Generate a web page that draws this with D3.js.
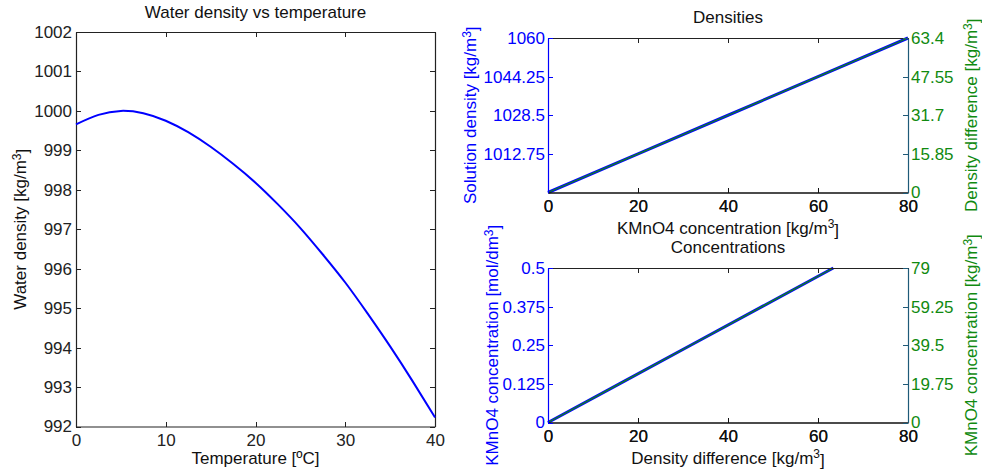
<!DOCTYPE html>
<html>
<head>
<meta charset="utf-8">
<script src="https://cdn.jsdelivr.net/npm/d3@7"></script>
<style>
  body { margin: 0; background: #fff; }
  svg { display: block; font-family: "Liberation Sans", Arial, Helvetica, sans-serif; }
  .tick line { shape-rendering: crispEdges; }
</style>
</head>
<body>
<div id="chart"></div>
<script>
// water density vs temperature (left panel)
const temps = [0, 2.5, 5, 7.5, 10, 12.5, 15, 17.5, 20, 22.5, 25, 27.5, 30, 32.5, 35, 37.5, 40];
const waterDensity = [999.66, 999.90, 1000.00, 999.94, 999.75, 999.46, 999.09, 998.66, 998.18,
  997.63, 997.03, 996.36, 995.65, 994.86, 994.03, 993.15, 992.23];
const tempTicks = [0, 10, 20, 30, 40];
const waterTicks = [992, 993, 994, 995, 996, 997, 998, 999, 1000, 1001, 1002];

// densities panel
const kmno4Conc = [0, 20, 40, 60, 80];
const solutionDensity = [997, 1012.75, 1028.5, 1044.25, 1060];
const densityDiff = [0, 15.85, 31.7, 47.55, 63.4];
const solTicks = [1012.75, 1028.5, 1044.25, 1060];
const diffTicks = [0, 15.85, 31.7, 47.55, 63.4];

// concentrations panel
const diffX = [0, 15.85, 31.7, 47.55, 63.4];
const molConc = [0, 0.125, 0.25, 0.375, 0.5];
const kgConc = [0, 19.75, 39.5, 59.25, 79];
const molTicks = [0, 0.125, 0.25, 0.375, 0.5];
const kgTicks = [0, 19.75, 39.5, 59.25, 79];
const xTicks = [0, 20, 40, 60, 80];

const BLUE = "#0000ff", GREEN = "#108a10", RAXIS = "#1f5a78";
const FS = 17, TK = 5;

const svg = d3.select("#chart").append("svg")
  .attr("width", 982).attr("height", 473);
svg.append("rect").attr("width", 982).attr("height", 473).attr("fill", "#fff");

// text with a superscript "3" piece
function label(g, x, y, pre, post, color, rot) {
  const t = g.append("text")
    .attr("text-anchor", "middle")
    .attr("fill", color)
    .style("font-size", FS + "px")
    .attr("transform", "translate(" + x + "," + y + ")" + (rot ? " rotate(-90)" : ""));
  t.append("tspan").text(pre);
  if (post !== undefined) {
    t.append("tspan").attr("dy", "-0.45em").style("font-size", "12px").text("3");
    t.append("tspan").attr("dy", "0.45em").text(post);
  }
  return t;
}

function styleAxis(g, color) {
  g.selectAll("path.domain").attr("stroke", color).attr("stroke-width", 1.2);
  g.selectAll(".tick line").attr("stroke", color);
  g.selectAll(".tick text").attr("fill", color).style("font-size", FS + "px")
    .style("font-family", "'Liberation Sans', Arial, sans-serif");
}

// ---------------- left panel ----------------
{
  const L = 76, R = 435, T = 32, B = 426.5;
  const x = d3.scaleLinear().domain([0, 40]).range([L, R]);
  const y = d3.scaleLinear().domain([992, 1002]).range([B, T]);
  const g = svg.append("g");

  const ax = g.append("g").attr("transform", "translate(0," + B + ")")
    .call(d3.axisBottom(x).tickValues(tempTicks).tickSize(-TK).tickSizeOuter(0).tickPadding(4));
  ax.selectAll(".tick text").attr("dy", "0.92em");
  styleAxis(ax, "#222");
  styleAxis(g.append("g").attr("transform", "translate(0," + T + ")")
    .call(d3.axisTop(x).tickValues(tempTicks).tickSize(-TK).tickSizeOuter(0).tickFormat("")), "#222");
  const ay = g.append("g").attr("transform", "translate(" + L + ",0)")
    .call(d3.axisLeft(y).tickValues(waterTicks).tickSize(-TK).tickSizeOuter(0).tickPadding(4).tickFormat(d3.format("d")));
  styleAxis(ay, "#222");
  styleAxis(g.append("g").attr("transform", "translate(" + R + ",0)")
    .call(d3.axisRight(y).tickValues(waterTicks).tickSize(-TK).tickSizeOuter(0).tickFormat("")), "#222");

  const line = d3.line().x((d, i) => x(temps[i])).y(d => y(d)).curve(d3.curveNatural);
  g.append("path").datum(waterDensity).attr("d", line)
    .attr("fill", "none").attr("stroke", BLUE).attr("stroke-width", 2);

  label(g, (L + R) / 2, 18, "Water density vs temperature", undefined, "#111");
  label(g, (L + R) / 2, 464, "Temperature [ºC]", undefined, "#111");
  label(g, 26, (T + B) / 2, "Water density [kg/m", "]", "#111", true);
}

// ---------------- plotyy panels ----------------
function plotyy(opt) {
  const L = 548, R = 908, T = opt.top, B = opt.top + 154.5;
  const x = d3.scaleLinear().domain([0, 80]).range([L, R]);
  const y1 = d3.scaleLinear().domain(opt.y1dom).range([B, T]);
  const y2 = d3.scaleLinear().domain(opt.y2dom).range([B, T]);
  const g = svg.append("g");

  // lines first, axes drawn over them
  const l1 = d3.line().x((d, i) => x(opt.xs[i])).y(d => y1(d));
  const l2 = d3.line().x((d, i) => x(opt.xs[i])).y(d => y2(d));
  g.append("path").datum(opt.ys1).attr("d", l1)
    .attr("fill", "none").attr("stroke", BLUE).attr("stroke-width", 3);
  g.append("path").datum(opt.ys2).attr("d", l2)
    .attr("fill", "none").attr("stroke", GREEN).attr("stroke-width", 1.3);

  // x axes (drawn twice like the two overlapping axes)
  for (let k = 0; k < 2; k++) {
    const ax = g.append("g").attr("transform", "translate(0," + B + ")")
      .call(d3.axisBottom(x).tickValues(xTicks).tickSize(-TK).tickSizeOuter(0).tickPadding(4));
    ax.selectAll(".tick text").attr("dy", "0.92em");
    styleAxis(ax, "#111");
    styleAxis(g.append("g").attr("transform", "translate(0," + T + ")")
      .call(d3.axisTop(x).tickValues(xTicks).tickSize(-TK).tickSizeOuter(0).tickFormat("")), "#222");
  }

  const ay1 = g.append("g").attr("transform", "translate(" + L + ",0)")
    .call(d3.axisLeft(y1).tickValues(opt.t1).tickSize(-TK).tickSizeOuter(0).tickPadding(3).tickFormat(d => String(d)));
  styleAxis(ay1, BLUE);
  const ay2 = g.append("g").attr("transform", "translate(" + R + ",0)")
    .call(d3.axisRight(y2).tickValues(opt.t2).tickSize(-TK).tickSizeOuter(0).tickPadding(3).tickFormat(d => String(d)));
  styleAxis(ay2, RAXIS);
  ay2.selectAll(".tick text").attr("fill", GREEN);

  label(g, (L + R) / 2, T - 15, opt.title, undefined, "#111");
  label(g, (L + R) / 2, B + 41, opt.xlab[0], opt.xlab[1], "#111");
  label(g, opt.y1x, (T + B) / 2, opt.y1lab[0], opt.y1lab[1], BLUE, true);
  label(g, 977, (T + B) / 2, opt.y2lab[0], opt.y2lab[1], GREEN, true);
}

plotyy({
  top: 38, title: "Densities",
  xs: kmno4Conc, ys1: solutionDensity, ys2: densityDiff,
  y1dom: [997, 1060], y2dom: [0, 63.4], t1: solTicks, t2: diffTicks,
  xlab: ["KMnO4 concentration [kg/m", "]"],
  y1lab: ["Solution density [kg/m", "]"], y1x: 476,
  y2lab: ["Density difference [kg/m", "]"]
});

plotyy({
  top: 268, title: "Concentrations",
  xs: diffX, ys1: molConc, ys2: kgConc,
  y1dom: [0, 0.5], y2dom: [0, 79], t1: molTicks, t2: kgTicks,
  xlab: ["Density difference [kg/m", "]"],
  y1lab: ["KMnO4 concentration [mol/dm", "]"], y1x: 498,
  y2lab: ["KMnO4 concentration [kg/m", "]"]
});
</script>
</body>
</html>
